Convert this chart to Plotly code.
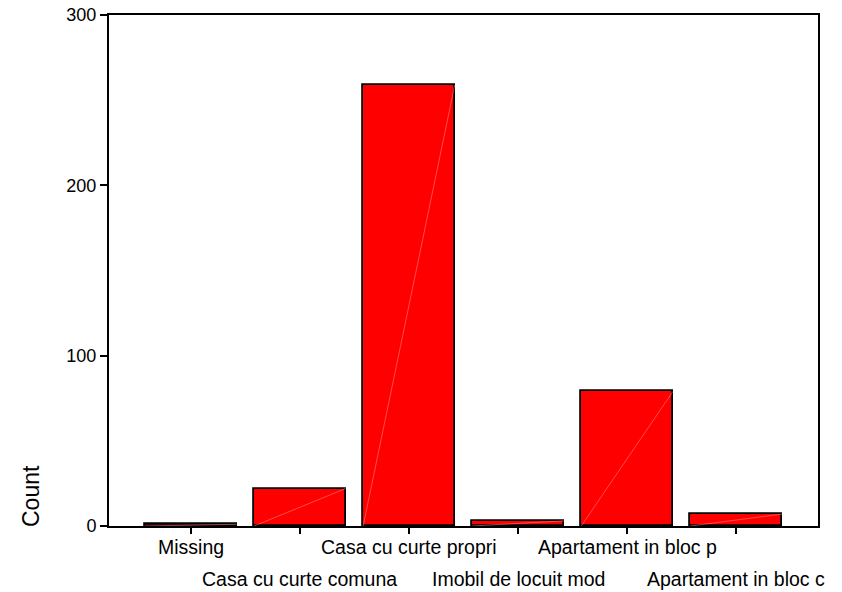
import plotly.graph_objects as go

categories = ["Missing", "Casa cu curte comuna", "Casa cu curte propri",
              "Imobil de locuit mod", "Apartament in bloc p", "Apartament in bloc c"]
counts = [1, 22, 259, 3, 79, 7]
y_ticks = [0, 100, 200, 300]

bar_width = 0.84
xs = list(range(len(categories)))
FONT = "Liberation Sans, Arial"

fig = go.Figure()
fig.add_trace(go.Bar(
    x=xs, y=counts, width=bar_width,
    marker=dict(color="#ff0000", line=dict(color="black", width=1.8)),
    showlegend=False, hoverinfo="skip",
))

# faint diagonal highlight across each bar face
for x, c in zip(xs, counts):
    fig.add_trace(go.Scatter(
        x=[x - bar_width / 2, x + bar_width / 2], y=[0, c],
        mode="lines", line=dict(color="rgba(255,160,160,0.6)", width=0.8),
        showlegend=False, hoverinfo="skip",
    ))

fig.update_xaxes(
    range=[-0.75, len(categories) - 0.25],
    tickvals=xs, ticktext=[""] * len(categories),
    ticks="outside", ticklen=6, tickwidth=1.5, tickcolor="black",
    showline=True, linecolor="black", linewidth=2, mirror=True,
    showgrid=False, zeroline=False, automargin=False,
)
fig.update_yaxes(
    range=[0, 300], tickvals=y_ticks,
    ticks="outside", ticklen=7, tickwidth=1.5, tickcolor="black",
    showline=True, linecolor="black", linewidth=2, mirror=True,
    showgrid=False, zeroline=False, automargin=False,
    tickfont=dict(family=FONT, size=18, color="black"),
)

# category labels staggered on two rows
for i, name in enumerate(categories):
    fig.add_annotation(
        x=i, y=0, xref="x", yref="paper", text=name, showarrow=False,
        xanchor="center", yanchor="middle", yshift=-21 if i % 2 == 0 else -53,
        font=dict(family=FONT, size=19.5, color="black"),
    )

fig.add_annotation(
    x=0, y=0, xref="paper", yref="paper", text="Count", showarrow=False,
    textangle=-90, xanchor="center", yanchor="middle", xshift=-78, yshift=30,
    font=dict(family=FONT, size=23, color="black"),
)

fig.update_layout(
    width=842, height=592,
    margin=dict(l=109, r=24, t=15, b=66),
    plot_bgcolor="white", paper_bgcolor="white",
    bargap=0,
)

fig.write_html("out.html")
